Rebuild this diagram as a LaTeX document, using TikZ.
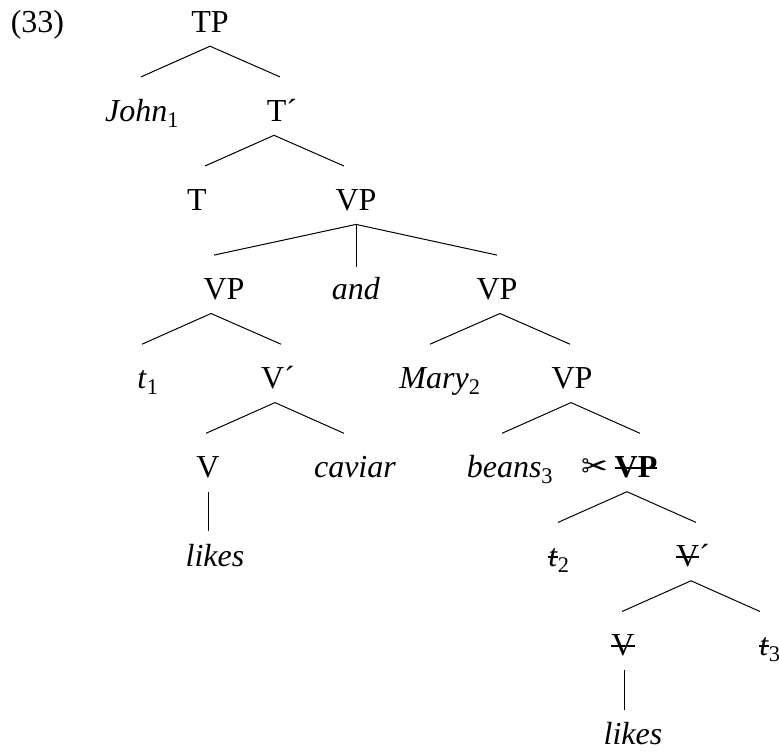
\documentclass[tikz,border=0pt]{standalone}
\usepackage{fontspec}
\setmainfont{Liberation Serif}
\newfontfamily\symbolfont{DejaVu Sans}
\newcommand{\struck}[1]{\setbox0\hbox{#1}\rlap{\rule[9pt]{\wd0}{1.3pt}}\box0}
\tikzset{
  cat/.style={inner sep=0pt, text height=44pt, text depth=14pt, font=\fontsize{32}{36}\selectfont},
  branch/.style={line width=1pt, black}
}
\begin{document}
\begin{tikzpicture}[node distance=89.1pt]
        \useasboundingbox (0,0) rectangle (779pt,-755pt);
        \node (number) [cat] at (37.5pt,-17pt) {(33)};
        \node (tp) [cat] at (210pt,-17pt) {TP};
        \node (john) [cat, below of=tp, xshift=-68pt] {\textit{John}\textsubscript{1}};
        \node (tbar) [cat, below of=tp, xshift=72pt] {T´};
        \node (t) [cat, below of=tbar, xshift=-85pt] {T};
        \node (vp) [cat, below of=tbar, xshift=74pt] {VP};
        \node (vpa) [cat, below of=vp, xshift=-132pt] {VP};
        \node (and) [cat, below of=vp] {\textit{and}};
        \node (vpb) [cat, below of=vp, xshift=141pt] {VP};
        \node (tracea) [cat, below of=vpa, xshift=-76pt] {\textit{t}\textsubscript{1}};
        \node (vbara) [cat, below of=vpa, xshift=54pt] {V´};
        \node (mary) [cat, below of=vpb, xshift=-57pt] {\textit{Mary}\textsubscript{2}};
        \node (vpc) [cat, below of=vpb, xshift=75pt] {VP};
        \node (va) [cat, below of=vbara, xshift=-70pt] {V};
        \node (caviar) [cat, below of=vbara, xshift=77pt] {\textit{caviar}};
        \node (beans) [cat, below of=vpc, xshift=-62pt] {\textit{beans}\textsubscript{3}};
        \node (vpd) [cat, below of=vpc, xshift=64pt] {\struck{\textbf{VP}}};
        \node (scissors) [cat, left of=vpd, node distance=41pt] {\symbolfont\char"2702};
        \node (likesa) [cat, below of=va, xshift=7pt] {\textit{likes}};
        \node (traceb) [cat, below of=vpd, xshift=-77pt] {\struck{\textit{t}}\textsubscript{2}};
        \node (vbarb) [cat, below of=vpd, xshift=57pt] {\struck{V}´};
        \node (vb) [cat, below of=vbarb, xshift=-70pt] {\struck{V}};
        \node (tracec) [cat, below of=vbarb, xshift=77pt] {\struck{\textit{t}}\textsubscript{3}};
        \node (likesb) [cat, below of=vb, xshift=10pt] {\textit{likes}};

        \draw[branch] (tp.south) -- ([xshift=-1pt]john.north);
        \draw[branch] (tp.south) -- ([xshift=-2pt]tbar.north);
        \draw[branch] ([xshift=-8pt]tbar.south) -- ([xshift=8pt]t.north);
        \draw[branch] ([xshift=-8pt]tbar.south) -- ([xshift=-12pt]vp.north);
        \draw[branch] (vp.south) -- ([xshift=-10pt]vpa.north);
        \draw[branch] (vp.south) -- ([yshift=-12pt]and.north);
        \draw[branch] (vp.south) -- (vpb.north);
        \draw[branch] ([xshift=-13pt]vpa.south) -- ([xshift=-6pt]tracea.north);
        \draw[branch] ([xshift=-13pt]vpa.south) -- ([xshift=3pt]vbara.north);
        \draw[branch] ([xshift=3pt]vpb.south) -- ([xshift=-10pt]mary.north);
        \draw[branch] ([xshift=3pt]vpb.south) -- ([xshift=-2pt]vpc.north);
        \draw[branch] ([xshift=-3pt]vbara.south) -- ([xshift=-2pt]va.north);
        \draw[branch] ([xshift=-3pt]vbara.south) -- ([xshift=-11pt]caviar.north);
        \draw[branch] ([xshift=-1pt]vpc.south) -- ([xshift=-8pt]beans.north);
        \draw[branch] ([xshift=-1pt]vpc.south) -- ([xshift=4pt]vpd.north);
        \draw[branch] (va.south) -- ([xshift=-7pt,yshift=-9pt]likesa.north);
        \draw[branch] ([xshift=-9pt]vpd.south) -- ([xshift=-1pt]traceb.north);
        \draw[branch] ([xshift=-9pt]vpd.south) -- ([xshift=3pt]vbarb.north);
        \draw[branch] ([xshift=-2pt]vbarb.south) -- ([xshift=-1pt]vb.north);
        \draw[branch] ([xshift=-2pt]vbarb.south) -- ([xshift=-10pt]tracec.north);
        \draw[branch] ([xshift=1pt]vb.south) -- ([xshift=-9pt,yshift=-9pt]likesb.north);
    \end{tikzpicture}
\end{document}
